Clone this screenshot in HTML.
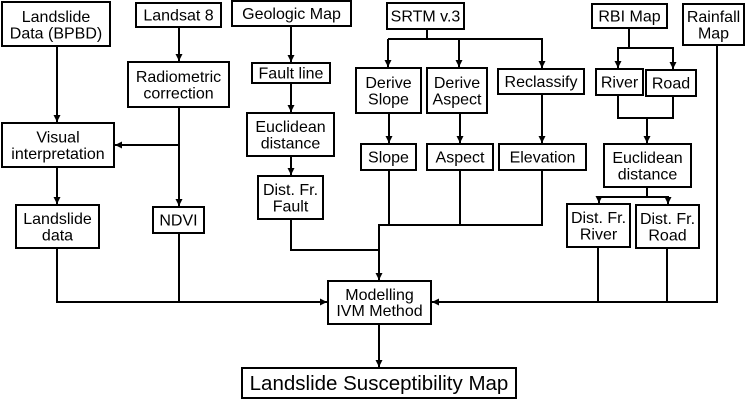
<!DOCTYPE html>
<html><head><meta charset="utf-8"><style>
html,body{margin:0;padding:0;background:#fff;}
svg{display:block;}
text{font-family:"Liberation Sans",sans-serif;font-size:16px;fill:#000;text-anchor:middle;}
</style></head><body>
<svg width="752" height="406" viewBox="0 0 752 406" xmlns="http://www.w3.org/2000/svg">
<defs>
<marker id="a" markerWidth="8" markerHeight="8" refX="7" refY="4" orient="auto" markerUnits="userSpaceOnUse">
<path d="M0,0.5 L7,4 L0,7.5 Z" fill="#000"/>
</marker>
</defs>
<g fill="#fff" stroke="#000" stroke-width="2">
<rect x="2" y="2" width="108" height="44"/>
<rect x="136" y="3" width="85" height="24"/>
<rect x="232" y="1" width="119" height="25"/>
<rect x="387" y="3" width="77" height="26"/>
<rect x="592" y="4" width="75" height="24"/>
<rect x="683" y="4" width="61" height="41"/>
<rect x="128" y="62" width="101" height="45"/>
<rect x="252" y="63" width="78" height="20"/>
<rect x="356" y="68" width="65" height="45"/>
<rect x="427" y="68" width="60" height="45"/>
<rect x="498" y="69" width="86" height="25"/>
<rect x="596" y="69" width="47" height="26"/>
<rect x="646" y="70" width="50" height="26"/>
<rect x="2" y="123" width="112" height="44"/>
<rect x="247" y="113" width="87" height="43"/>
<rect x="361" y="144" width="55" height="26"/>
<rect x="427" y="144" width="66" height="26"/>
<rect x="499" y="144" width="87" height="26"/>
<rect x="604" y="144" width="87" height="43"/>
<rect x="258" y="176" width="65" height="43"/>
<rect x="16" y="205" width="83" height="43"/>
<rect x="153" y="207" width="51" height="26"/>
<rect x="567" y="204" width="63" height="43"/>
<rect x="636" y="205" width="63" height="43"/>
<rect x="328" y="281" width="103" height="43"/>
<rect x="242" y="368" width="274" height="30"/>
</g>
<g fill="none" stroke="#000" stroke-width="2">
<!-- left column -->
<line x1="57" y1="46" x2="57" y2="122" marker-end="url(#a)"/>
<line x1="179" y1="27" x2="179" y2="61" marker-end="url(#a)"/>
<line x1="179" y1="107" x2="179" y2="206" marker-end="url(#a)"/>
<line x1="179" y1="145" x2="115" y2="145" marker-end="url(#a)"/>
<line x1="57" y1="167" x2="57" y2="204" marker-end="url(#a)"/>
<!-- geologic -->
<line x1="291" y1="26" x2="291" y2="62" marker-end="url(#a)"/>
<line x1="291" y1="83" x2="291" y2="112" marker-end="url(#a)"/>
<line x1="291" y1="156" x2="291" y2="175" marker-end="url(#a)"/>
<polyline points="291,219 291,250 379,250"/>
<!-- SRTM -->
<line x1="427" y1="29" x2="427" y2="39"/>
<line x1="388" y1="39" x2="543" y2="39"/>
<line x1="388" y1="39" x2="388" y2="67" marker-end="url(#a)"/>
<line x1="459" y1="39" x2="459" y2="67" marker-end="url(#a)"/>
<line x1="542" y1="39" x2="542" y2="68" marker-end="url(#a)"/>
<line x1="389" y1="113" x2="389" y2="143" marker-end="url(#a)"/>
<line x1="460" y1="113" x2="460" y2="143" marker-end="url(#a)"/>
<line x1="542" y1="94" x2="542" y2="143" marker-end="url(#a)"/>
<line x1="389" y1="170" x2="389" y2="225"/>
<line x1="460" y1="170" x2="460" y2="225"/>
<line x1="542" y1="170" x2="542" y2="225"/>
<line x1="378" y1="225" x2="543" y2="225"/>
<line x1="379" y1="225" x2="379" y2="280" marker-end="url(#a)"/>
<!-- RBI -->
<line x1="629" y1="28" x2="629" y2="48"/>
<line x1="617" y1="48" x2="674" y2="48"/>
<line x1="618" y1="48" x2="618" y2="68" marker-end="url(#a)"/>
<line x1="673" y1="48" x2="673" y2="69" marker-end="url(#a)"/>
<polyline points="618,95 618,118 673,118 673,96"/>
<line x1="647" y1="118" x2="647" y2="143" marker-end="url(#a)"/>
<line x1="647" y1="187" x2="647" y2="197"/>
<line x1="598" y1="197" x2="669" y2="197"/>
<line x1="599" y1="197" x2="599" y2="203" marker-end="url(#a)"/>
<line x1="668" y1="197" x2="668" y2="204" marker-end="url(#a)"/>
<!-- bottom -->
<line x1="57" y1="248" x2="57" y2="302"/>
<line x1="179" y1="233" x2="179" y2="302"/>
<line x1="56" y1="302" x2="327" y2="302" marker-end="url(#a)"/>
<line x1="598" y1="247" x2="598" y2="302"/>
<line x1="667" y1="248" x2="667" y2="302"/>
<line x1="717" y1="45" x2="717" y2="302"/>
<line x1="718" y1="302" x2="432" y2="302" marker-end="url(#a)"/>
<line x1="379" y1="324" x2="379" y2="367" marker-end="url(#a)"/>
</g>
<g>
<text x="56" y="22">Landslide</text><text x="56" y="38.5">Data (BPBD)</text>
<text x="178.5" y="20.5">Landsat 8</text>
<text x="291.5" y="19">Geologic Map</text>
<text x="425.5" y="21.5">SRTM v.3</text>
<text x="629.5" y="21.5">RBI Map</text>
<text x="713.5" y="22">Rainfall</text><text x="713.5" y="38.5">Map</text>
<text x="178.5" y="82">Radiometric</text><text x="178.5" y="98.5">correction</text>
<text x="291" y="78.5">Fault line</text>
<text x="388.5" y="88">Derive</text><text x="388.5" y="104.5">Slope</text>
<text x="457" y="88">Derive</text><text x="457" y="104.5">Aspect</text>
<text x="541" y="87">Reclassify</text>
<text x="619.5" y="87.5">River</text>
<text x="671" y="88.5">Road</text>
<text x="58" y="142.5">Visual</text><text x="58" y="159">interpretation</text>
<text x="290.5" y="132">Euclidean</text><text x="290.5" y="148.5">distance</text>
<text x="388.5" y="162.5">Slope</text>
<text x="460" y="162.5">Aspect</text>
<text x="542.5" y="162.5">Elevation</text>
<text x="647.5" y="163">Euclidean</text><text x="647.5" y="179.5">distance</text>
<text x="290.5" y="195">Dist. Fr.</text><text x="290.5" y="211.5">Fault</text>
<text x="57.5" y="224">Landslide</text><text x="57.5" y="240.5">data</text>
<text x="178.5" y="225.5">NDVI</text>
<text x="598.5" y="223">Dist. Fr.</text><text x="598.5" y="239.5">River</text>
<text x="667.5" y="224">Dist. Fr.</text><text x="667.5" y="240.5">Road</text>
<text x="379.5" y="300">Modelling</text><text x="379.5" y="316">IVM Method</text>
<text x="379" y="390" style="font-size:20.5px">Landslide Susceptibility Map</text>
</g>
</svg>
</body></html>
